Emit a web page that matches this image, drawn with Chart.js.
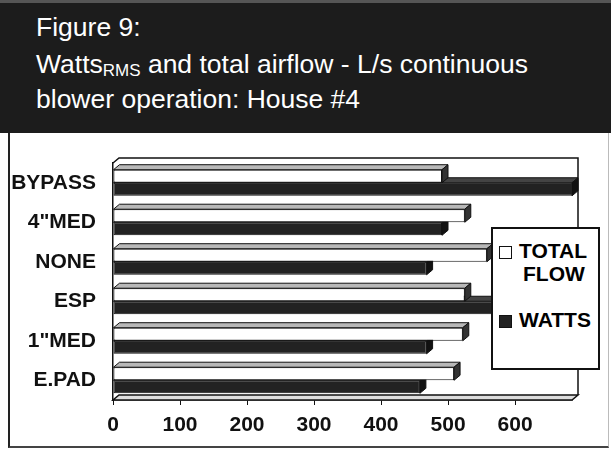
<!DOCTYPE html>
<html>
<head>
<meta charset="utf-8">
<script src="https://cdn.jsdelivr.net/npm/chart.js@4"></script>
<style>
  body { margin: 0; width: 611px; height: 452px; position: relative; overflow: hidden; background: #fff;
         font-family: "Liberation Sans", Arial, sans-serif; }
  #head { position: absolute; left: 0; top: 0; width: 611px; height: 133px; background: #1c1c1c; color: #fff;
          border-top: 3px solid #555; box-sizing: border-box; }
  #head div { position: absolute; left: 36px; font-size: 26.5px; line-height: 34px; white-space: nowrap; }
  #head sub { font-size: 17px; vertical-align: -3px; }
  #frame { position: absolute; left: 8px; top: 133px; width: 598px; height: 313px;
           border-left: 2px solid #222; border-bottom: 2px solid #444; border-right: 1px solid #bbb; }
  #chart { position: absolute; left: 0; top: 0; }
  #legend { position: absolute; left: 491px; top: 227px; width: 105px; height: 139px; background: #fff;
            border: 2px solid #111; font-weight: bold; font-size: 21px; }
  #legend .sw { position: absolute; left: 6px; width: 11px; height: 11px; border: 1.5px solid #111; }
  #legend .tx { position: absolute; left: 26px; line-height: 22px; white-space: nowrap; }
</style>
</head>
<body>
<div id="head">
  <div style="top:7px">Figure 9:</div>
  <div style="top:44px">Watts<sub>RMS</sub> and total airflow - L/s continuous</div>
  <div style="top:79px">blower operation: House #4</div>
</div>
<div id="frame"></div>
<canvas id="chart" width="611" height="452"></canvas>
<div id="legend">
  <div class="sw" style="top:17px;background:#fff"></div>
  <div class="tx" style="top:11px">TOTAL</div>
  <div class="tx" style="top:34px;left:30px">FLOW</div>
  <div class="sw" style="top:86px;background:#222"></div>
  <div class="tx" style="top:80px">WATTS</div>
</div>
<script>
const categories = ['BYPASS', '4"MED', 'NONE', 'ESP', '1"MED', 'E.PAD'];
const totalFlow = [491, 525, 558, 525, 522, 509];
const watts = [700, 491, 468, 640, 468, 458];
const xTicks = [0, 100, 200, 300, 400, 500, 600];

const depthX = 6, depthY = 5;

// fake Excel-style 3D: box walls, bar top faces and end faces
const bar3d = {
  id: 'bar3d',
  beforeDatasetsDraw(chart) {
    const ctx = chart.ctx, a = chart.chartArea;
    ctx.save();
    ctx.lineWidth = 1.5;
    ctx.strokeStyle = '#111';
    // floor
    ctx.beginPath();
    ctx.moveTo(a.left, a.bottom);
    ctx.lineTo(a.right, a.bottom);
    ctx.lineTo(a.right + depthX, a.bottom - depthY);
    ctx.lineTo(a.left + depthX, a.bottom - depthY);
    ctx.closePath();
    ctx.fillStyle = '#ddd';
    ctx.fill();
    ctx.stroke();
    // back wall
    ctx.beginPath();
    ctx.moveTo(a.left, a.top);
    ctx.lineTo(a.left + depthX, a.top - depthY);
    ctx.lineTo(a.right + depthX, a.top - depthY);
    ctx.lineTo(a.right + depthX, a.bottom - depthY);
    ctx.stroke();

    ctx.lineWidth = 1;
    const faces = [['#b8b8b8', '#333'], ['#444', '#111']];
    [1, 0].forEach(i => {
      chart.getDatasetMeta(i).data.forEach(bar => {
        const p = bar.getProps(['x', 'y', 'base', 'height'], true);
        const top = p.y - p.height / 2, bottom = p.y + p.height / 2;
        const x = Math.min(p.x, a.right);
        ctx.beginPath();
        ctx.moveTo(p.base, top);
        ctx.lineTo(p.base + depthX, top - depthY);
        ctx.lineTo(x + depthX, top - depthY);
        ctx.lineTo(x, top);
        ctx.closePath();
        ctx.fillStyle = faces[i][0];
        ctx.fill();
        ctx.stroke();
        ctx.beginPath();
        ctx.moveTo(x, top);
        ctx.lineTo(x + depthX, top - depthY);
        ctx.lineTo(x + depthX, bottom - depthY);
        ctx.lineTo(x, bottom);
        ctx.closePath();
        ctx.fillStyle = faces[i][1];
        ctx.fill();
        ctx.stroke();
      });
    });
    ctx.restore();
  }
};

new Chart(document.getElementById('chart'), {
  type: 'bar',
  data: {
    labels: categories,
    datasets: [{
      label: 'TOTAL FLOW',
      data: totalFlow,
      backgroundColor: '#fff',
      borderColor: '#111',
      borderWidth: 1,
      borderSkipped: false,
      barPercentage: 1.0,
      categoryPercentage: 0.66
    }, {
      label: 'WATTS',
      data: watts,
      backgroundColor: '#222',
      borderColor: '#111',
      borderWidth: 1,
      borderSkipped: false,
      barPercentage: 1.0,
      categoryPercentage: 0.66
    }]
  },
  options: {
    indexAxis: 'y',
    responsive: false,
    animation: false,
    layout: { padding: { left: 0, top: 163, right: 39, bottom: 0 } },
    plugins: { legend: { display: false }, tooltip: { enabled: false } },
    scales: {
      x: {
        min: 0,
        max: 685,
        afterBuildTicks: s => { s.ticks = xTicks.map(v => ({ value: v })); },
        afterFit: s => { s.height = 52; },
        grid: { drawOnChartArea: false, drawTicks: true, tickLength: 5, color: '#111' },
        border: { display: true, color: '#111', width: 1.5 },
        ticks: { color: '#111', padding: 8, font: { family: '"Liberation Sans", Arial', size: 21, weight: 'bold' } }
      },
      y: {
        afterFit: s => { s.width = 113; },
        grid: { display: false },
        border: { display: true, color: '#111', width: 1.5 },
        ticks: { color: '#111', padding: 9, font: { family: '"Liberation Sans", Arial', size: 21, weight: 'bold' } }
      }
    }
  },
  plugins: [bar3d]
});
</script>
</body>
</html>
